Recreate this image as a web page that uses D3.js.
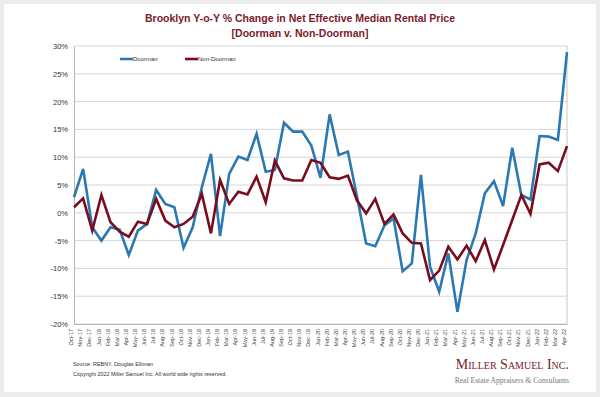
<!DOCTYPE html>
<html>
<head>
<meta charset="utf-8">
<script src="https://cdn.jsdelivr.net/npm/d3@7"></script>
<style>
    body { margin: 0; background: #ececec; }
    svg { display: block; }
</style>
</head>
<body>
<script>
var months = ["Oct-17","Nov-17","Dec-17","Jan-18","Feb-18","Mar-18","Apr-18","May-18","Jun-18","Jul-18",
    "Aug-18","Sep-18","Oct-18","Nov-18","Dec-18","Jan-19","Feb-19","Mar-19","Apr-19","May-19",
    "Jun-19","Jul-19","Aug-19","Sep-19","Oct-19","Nov-19","Dec-19","Jan-20","Feb-20","Mar-20",
    "Apr-20","May-20","Jun-20","Jul-20","Aug-20","Sep-20","Oct-20","Nov-20","Dec-20","Jan-21",
    "Feb-21","Mar-21","Apr-21","May-21","Jun-21","Jul-21","Aug-21","Sep-21","Oct-21","Nov-21",
    "Dec-21","Jan-22","Feb-22","Mar-22","Apr-22"];

var doorman = [2.8, 7.9, -2.6, -5.0, -2.6, -3.0, -7.6, -3.2, -2.0, 4.1,
    1.6, 1.0, -6.3, -2.6, 4.6, 10.6, -4.2, 7.0, 10.1, 9.5,
    14.2, 7.4, 7.7, 16.2, 14.6, 14.6, 12.1, 6.3, 17.7, 10.4,
    11.0, 2.9, -5.5, -6.0, -2.3, -1.0, -10.5, -9.1, 6.8, -9.7,
    -14.2, -7.3, -17.8, -8.5, -3.7, 3.5, 5.7, 1.2, 11.7, 3.2,
    2.4, 13.8, 13.7, 13.1, 28.9];

var nonDoorman = [1.0, 2.6, -3.2, 3.2, -1.7, -3.4, -4.3, -1.6, -2.0, 2.5,
    -1.4, -2.6, -2.0, -0.7, 3.4, -3.7, 5.9, 1.6, 3.8, 3.3,
    6.5, 1.9, 9.4, 6.2, 5.8, 5.8, 9.5, 9.0, 6.4, 6.1,
    6.7, 2.2, -0.1, 2.5, -2.0, -0.3, -3.7, -5.4, -5.5, -12.1,
    -10.4, -6.1, -8.4, -5.9, -8.7, -4.9, -10.2, -5.8, -1.3, 3.2,
    -0.2, 8.7, 9.0, 7.5, 12.0];

var yTicks = [-20, -15, -10, -5, 0, 5, 10, 15, 20, 25, 30];

var seriesNames = ["Doorman", "Non-Doorman"];
var seriesColors = ["#2b78b3", "#780d1e"];

function init() {
    var w = 600;
    var h = 397;
    var left = 74, right = 567, top = 46, bottom = 324;

    var svg = d3.select("body")
        .append("svg")
        .attr("width", w)
        .attr("height", h);

    // white card
    svg.append("rect")
        .attr("x", 4).attr("y", 4)
        .attr("width", w - 8).attr("height", h - 9)
        .attr("fill", "#ffffff");

    var xScale = d3.scalePoint()
        .domain(months)
        .range([left, right]);

    var yScale = d3.scaleLinear()
        .domain([-20, 30])
        .range([bottom, top]);

    // gridlines
    svg.append("g")
        .selectAll("line")
        .data(yTicks)
        .enter()
        .append("line")
        .attr("x1", left).attr("x2", right)
        .attr("y1", function (d) { return yScale(d); })
        .attr("y2", function (d) { return yScale(d); })
        .attr("stroke", "#d6d6d6")
        .attr("stroke-width", 1);

    // plot border (right side)
    svg.append("line")
        .attr("x1", right).attr("x2", right)
        .attr("y1", top).attr("y2", bottom)
        .attr("stroke", "#c8c8c8");

    // y axis
    var yAxis = d3.axisLeft(yScale)
        .tickValues(yTicks)
        .tickSize(0)
        .tickPadding(6)
        .tickFormat(function (d) { return d + "%"; });

    var gy = svg.append("g")
        .attr("transform", "translate(" + left + ",0)")
        .call(yAxis);
    gy.select(".domain").attr("stroke", "#b5b5b5");
    gy.selectAll("text")
        .attr("font-family", "Liberation Sans, Arial, sans-serif")
        .attr("font-size", 7.5)
        .attr("fill", "#333");

    // x axis
    var xAxis = d3.axisBottom(xScale)
        .tickSize(0)
        .tickPadding(4);

    var gx = svg.append("g")
        .attr("transform", "translate(0," + bottom + ")")
        .call(xAxis);
    gx.select(".domain").attr("stroke", "#b5b5b5");
    gx.selectAll("text")
        .attr("font-family", "Liberation Sans, Arial, sans-serif")
        .attr("font-size", 5.5)
        .attr("fill", "#444")
        .attr("transform", "rotate(-90)")
        .attr("text-anchor", "end")
        .attr("dx", "-0.35em")
        .attr("dy", "-0.25em")
        .attr("y", 0)
        .attr("x", -3);

    // lines
    var line = d3.line()
        .x(function (d, i) { return xScale(months[i]); })
        .y(function (d) { return yScale(d); });

    [doorman, nonDoorman].forEach(function (series, k) {
        svg.append("path")
            .datum(series)
            .attr("fill", "none")
            .attr("stroke", seriesColors[k])
            .attr("stroke-width", 2.6)
            .attr("stroke-linejoin", "miter")
            .attr("d", line);
    });

    // legend
    var legendX = [120, 185];
    var legend = svg.append("g");
    seriesNames.forEach(function (name, k) {
        legend.append("line")
            .attr("x1", legendX[k]).attr("x2", legendX[k] + 13)
            .attr("y1", 59).attr("y2", 59)
            .attr("stroke", seriesColors[k])
            .attr("stroke-width", 2.6);
        legend.append("text")
            .attr("x", legendX[k] + 13)
            .attr("y", 61)
            .attr("font-family", "Liberation Sans, Arial, sans-serif")
            .attr("font-size", 6)
            .attr("fill", "#333")
            .text(name);
    });

    // title
    var title = svg.append("g")
        .attr("font-family", "Liberation Sans, Arial, sans-serif")
        .attr("font-weight", "bold")
        .attr("font-size", 10.5)
        .attr("fill", "#7a1a2b")
        .attr("text-anchor", "middle");
    title.append("text").attr("x", 300).attr("y", 22)
        .text("Brooklyn Y-o-Y % Change in Net Effective Median Rental Price");
    title.append("text").attr("x", 300).attr("y", 37)
        .text("[Doorman v. Non-Doorman]");

    // source
    var src = svg.append("g")
        .attr("font-family", "Liberation Sans, Arial, sans-serif")
        .attr("font-size", 5.4)
        .attr("fill", "#333");
    src.append("text").attr("x", 73).attr("y", 366).text("Source: REBNY, Douglas Elliman");
    src.append("text").attr("x", 73).attr("y", 376)
        .text("Copyright 2022 Miller Samuel Inc.  All world wide rights reserved.");

    // logo
    svg.append("text")
        .attr("x", 569).attr("y", 369)
        .attr("text-anchor", "end")
        .attr("font-family", "Liberation Serif, Times New Roman, serif")
        .attr("font-size", 14)
        .attr("fill", "#7a1a2b")
        .style("font-variant", "small-caps")
        .text("Miller Samuel Inc.");
    svg.append("text")
        .attr("x", 569).attr("y", 383)
        .attr("text-anchor", "end")
        .attr("font-family", "Liberation Serif, Times New Roman, serif")
        .attr("font-size", 7.6)
        .attr("fill", "#777")
        .text("Real Estate Appraisers & Consultants");
}

window.onload = init;
</script>
</body>
</html>
